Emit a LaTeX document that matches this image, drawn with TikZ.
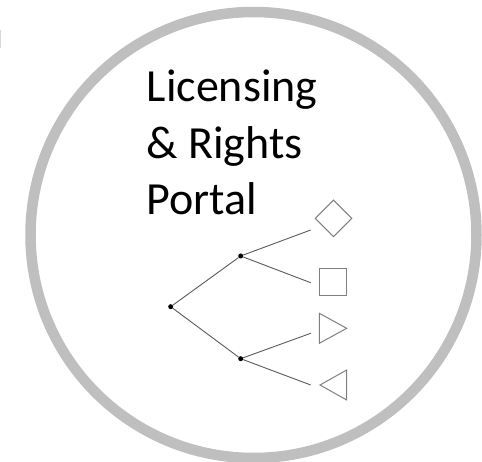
\documentclass[tikz,border=0pt]{standalone}
\usepackage{fontspec}
\setmainfont{Carlito}
\usetikzlibrary{shapes.geometric}
\definecolor{ringgray}{HTML}{BFBFBF}
\definecolor{linegray}{HTML}{595959}
\definecolor{leafgray}{HTML}{7F7F7F}
\begin{document}
\begin{tikzpicture}[x=1pt,y=-1pt,
    dot/.style={circle,fill=black,inner sep=0pt,minimum size=5pt},
    leaf/.style={draw=leafgray,line width=1pt,inner sep=0pt,outer sep=0pt},
    branch/.style={draw=linegray,line width=0.9pt}]
        \useasboundingbox (0,0) rectangle (482,462);
        \draw[ringgray,line width=10.5pt] (253.5,235) circle (223);
        \draw[ringgray!60,line width=1.5pt] (0.5,30) -- (0.5,48);
        \node[anchor=base west,align=left,inner sep=0pt,font=\fontsize{46}{56.5}\selectfont] (title) at (146.5,215) {Licensing\\\& Rights\\Portal};
        % tree
        \node[dot] (root) at (170.7,306.7) {};
        \node[dot] (upper) at (240.7,256) {};
        \node[dot] (lower) at (240.7,358.7) {};
        \coordinate (e1) at (310.7,230);
        \coordinate (e2) at (310.7,282.7);
        \coordinate (e3) at (310.7,333.3);
        \coordinate (e4) at (310.7,385);
        \draw[branch] (root) -- (upper) (root) -- (lower);
        \draw[branch] (upper) -- (e1) (upper) -- (e2);
        \draw[branch] (lower) -- (e3) (lower) -- (e4);
        % leaves
        \node[leaf,diamond,minimum width=36.5pt,minimum height=36.5pt] (diam) at (333.5,218.3) {};
        \node[leaf,rectangle,minimum size=27.4pt] (sq) at (333,282) {};
        \draw[leafgray,line width=1pt,line join=miter] (319.3,313.3) coordinate (tright) -- (346.7,328.3) -- (319.3,343.3) -- cycle;
        \draw[leafgray,line width=1pt,line join=miter] (346.7,370) coordinate (tleft) -- (320,385) -- (346.7,400) -- cycle;
\end{tikzpicture}
\end{document}
